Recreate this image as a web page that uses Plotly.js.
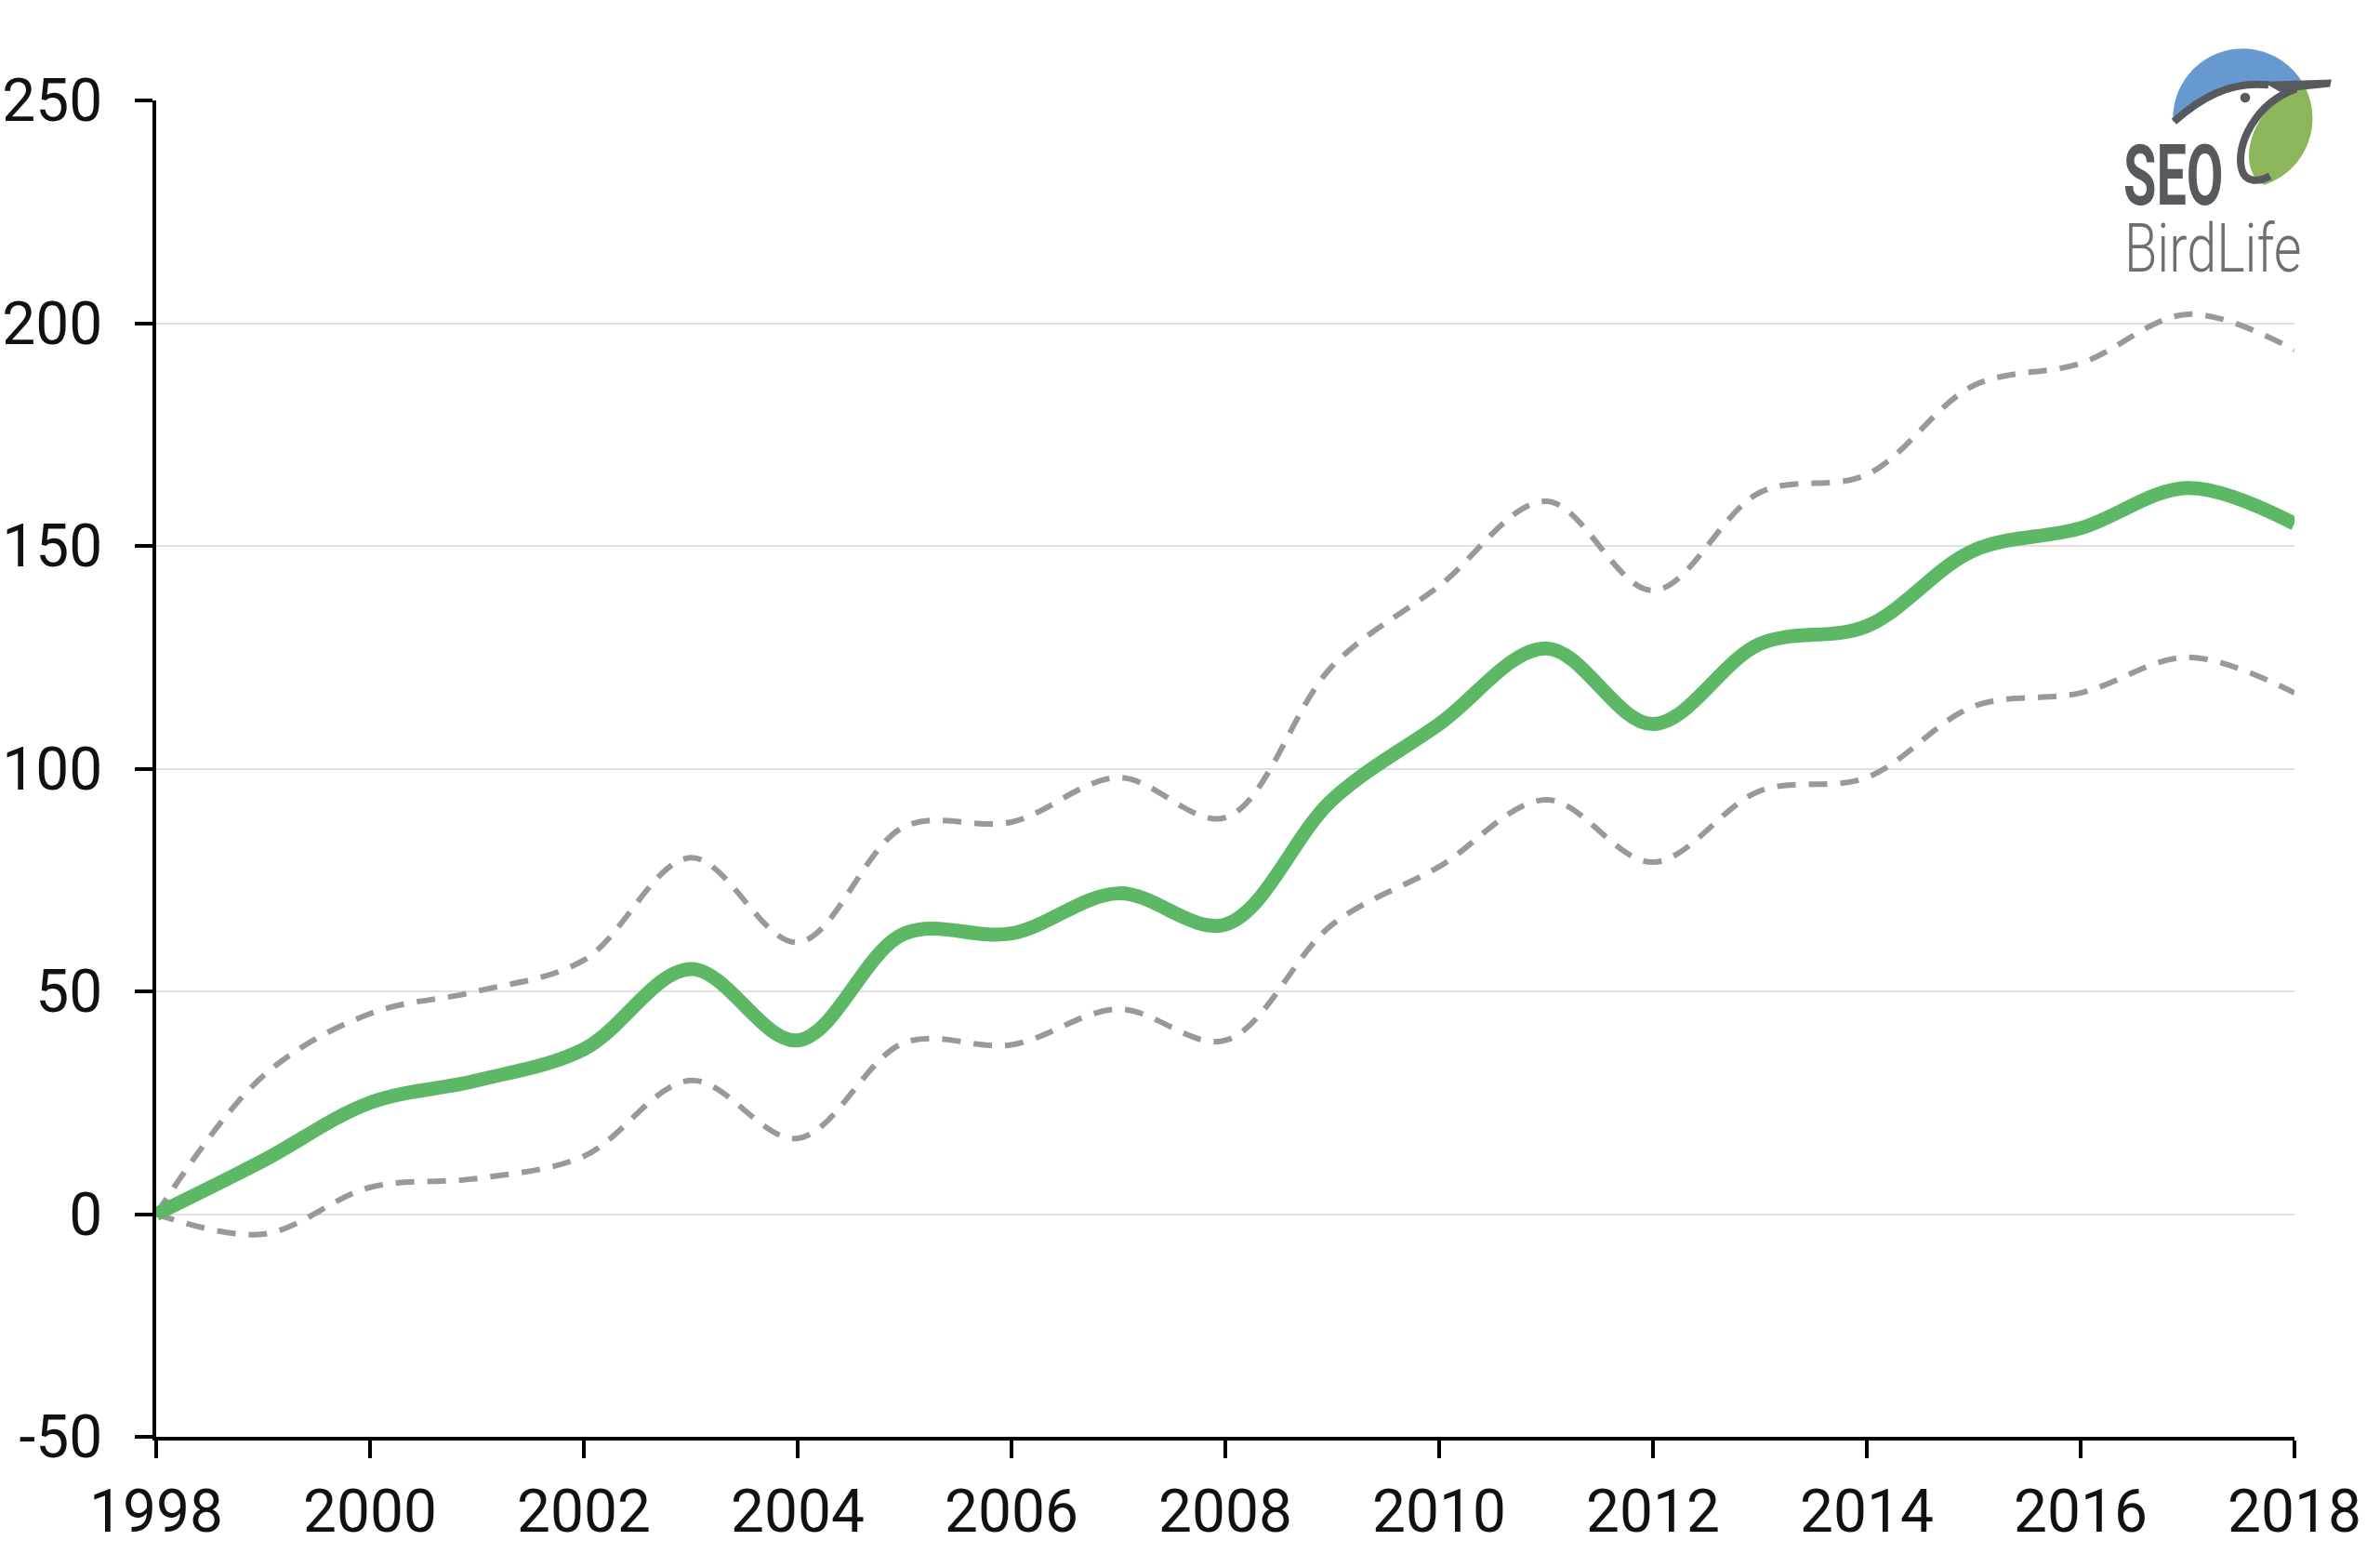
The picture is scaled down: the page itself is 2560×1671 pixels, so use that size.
<!DOCTYPE html>
<html>
<head>
<meta charset="utf-8">
<script src="https://cdn.plot.ly/plotly-3.0.1.min.js"></script>
<style>
  html, body { margin: 0; padding: 0; background: #fff; }
  #chart { width: 2560px; height: 1671px; }
</style>
</head>
<body>
<div id="chart"></div>
<script>
  // index values (1998 = 0)
  const years = [1998, 1999, 2000, 2001, 2002, 2003, 2004, 2005, 2006, 2007, 2008,
                 2009, 2010, 2011, 2012, 2013, 2014, 2015, 2016, 2017, 2018];
  const trend = [0, 12, 25, 30, 37, 55, 39, 63, 63, 72, 65,
                 93, 110, 127, 110, 128, 132, 149, 154, 163, 155];
  const upper = [0, 31, 45, 50, 57, 80, 61, 87, 88, 98, 89,
                 123, 141, 160, 140, 162, 166, 186, 191, 202, 194];
  const lower = [0, -4.5, 6, 8, 13, 30, 17, 38.5, 38, 46, 39,
                 65, 78, 93, 79, 95, 98, 114, 117, 125, 117];
  const yTicks = [-50, 0, 50, 100, 150, 200, 250];
  const xTicks = [1998, 2000, 2002, 2004, 2006, 2008, 2010, 2012, 2014, 2016, 2018];

  const W = 2560, H = 1671;
  const mL = 168, mR = 92, mT = 108, mB = 126;
  const plotW = W - mL - mR, plotH = H - mT - mB;

  // logo helpers: logo sketched on a 3x grid starting at (2240, 30)
  function lx(zx) { return ((2240 + zx / 3) - mL) / plotW; }
  function ly(zy) { return ((H - mB) - (30 + zy / 3)) / plotH; }
  function pt(zx, zy) { return lx(zx).toFixed(5) + ',' + ly(zy).toFixed(5); }

  function arcPts(cx, cy, r, a0, a1, n) {
    let s = '';
    for (let i = 0; i <= n; i++) {
      let a = (a0 + (a1 - a0) * i / n) * Math.PI / 180;
      s += ' L' + pt(cx + r * Math.cos(a), cy - r * Math.sin(a));
    }
    return s;
  }

  const cx = 517, cy = 292, cr = 225;
  const bluePath = 'M' + pt(292, 300) + arcPts(cx, cy, cr, 180, 31, 60) +
    ' L' + pt(600, 182) + ' C' + pt(470, 175) + ' ' + pt(380, 230) + ' ' + pt(292, 302) + ' Z';
  const greenPath = 'M' + pt(709, 175) + arcPts(cx, cy, cr, 31, -72, 60) +
    ' C' + pt(520, 480) + ' ' + pt(500, 330) + ' ' + pt(660, 200) + ' Z';
  const headPath = 'M' + pt(295, 302) + ' C' + pt(380, 228) + ' ' + pt(470, 172) + ' ' + pt(600, 184);
  const beakPath = 'M' + pt(590, 176) + ' L' + pt(800, 170) + ' L' + pt(796, 188) +
    ' L' + pt(640, 204) + ' Z';
  const neckPath = 'M' + pt(690, 196) + ' C' + pt(560, 240) + ' ' + pt(490, 380) + ' ' + pt(515, 460) +
    ' C' + pt(525, 495) + ' ' + pt(565, 500) + ' ' + pt(605, 478);

  const gray = '#56595d';

  const data = [
    {
      x: years, y: upper, type: 'scatter', mode: 'lines', name: 'upper',
      line: {color: '#999999', width: 6, dash: '20px,14px', shape: 'spline', smoothing: 1}
    },
    {
      x: years, y: lower, type: 'scatter', mode: 'lines', name: 'lower',
      line: {color: '#999999', width: 6, dash: '20px,14px', shape: 'spline', smoothing: 1}
    },
    {
      x: years, y: trend, type: 'scatter', mode: 'lines', name: 'trend',
      line: {color: '#5cb865', width: 15, shape: 'spline', smoothing: 1}
    }
  ];

  const tickFont = {family: 'Roboto, sans-serif', size: 64, color: '#111111'};

  const layout = {
    width: W, height: H,
    margin: {l: mL, r: mR, t: mT, b: mB},
    paper_bgcolor: '#ffffff',
    plot_bgcolor: '#ffffff',
    showlegend: false,
    font: {family: 'Roboto, sans-serif', size: 64, color: '#111111'},
    xaxis: {
      range: [1998, 2018],
      tickvals: xTicks,
      ticktext: xTicks.map(String),
      showgrid: false,
      zeroline: false,
      showline: true,
      linecolor: '#000000',
      linewidth: 4,
      ticks: 'outside',
      ticklen: 19,
      tickwidth: 4,
      tickcolor: '#000000',
      ticklabelstandoff: 2,
      tickfont: tickFont
    },
    yaxis: {
      range: [-50, 250],
      tickvals: yTicks,
      ticktext: yTicks.map(String),
      showgrid: true,
      gridcolor: '#e0e0e0',
      gridwidth: 2,
      zeroline: false,
      showline: true,
      linecolor: '#000000',
      linewidth: 4,
      ticks: 'outside',
      ticklen: 19,
      tickwidth: 4,
      tickcolor: '#000000',
      ticklabelstandoff: 22,
      tickfont: tickFont
    },
    shapes: [
      {type: 'path', xref: 'paper', yref: 'paper', path: bluePath,
       fillcolor: '#6699d0', line: {width: 0}, layer: 'above'},
      {type: 'path', xref: 'paper', yref: 'paper', path: greenPath,
       fillcolor: '#8bb65a', line: {width: 0}, layer: 'above'},
      {type: 'path', xref: 'paper', yref: 'paper', path: headPath,
       line: {color: gray, width: 8}, layer: 'above'},
      {type: 'path', xref: 'paper', yref: 'paper', path: beakPath,
       fillcolor: gray, line: {color: gray, width: 2}, layer: 'above'},
      {type: 'path', xref: 'paper', yref: 'paper', path: neckPath,
       line: {color: gray, width: 8}, layer: 'above'},
      {type: 'circle', xref: 'paper', yref: 'paper',
       x0: lx(509), x1: lx(541), y0: ly(241), y1: ly(209),
       fillcolor: gray, line: {width: 0}, layer: 'above'}
    ],
    annotations: [
      {xref: 'paper', yref: 'paper', x: lx(126), y: ly(478), xanchor: 'left', yanchor: 'middle',
       text: '<b>SEO</b>', showarrow: false,
       font: {family: 'Roboto, sans-serif', size: 90, color: gray}},
      {xref: 'paper', yref: 'paper', x: lx(128), y: ly(712), xanchor: 'left', yanchor: 'middle',
       text: 'BirdLife', showarrow: false,
       font: {family: 'Roboto, sans-serif', size: 72, weight: 300, color: '#6b6e72'}}
    ]
  };

  Plotly.newPlot('chart', data, layout, {displayModeBar: false, staticPlot: true}).then(function (gd) {
    // squeeze the logo words horizontally, like the condensed logo type
    const squeeze = [0.64, 0.80];
    gd.querySelectorAll('.annotation-text').forEach(function (t, i) {
      t.style.transformBox = 'fill-box';
      t.style.transformOrigin = 'left center';
      t.style.transform = 'scaleX(' + squeeze[i] + ')';
    });
  });
</script>
</body>
</html>
